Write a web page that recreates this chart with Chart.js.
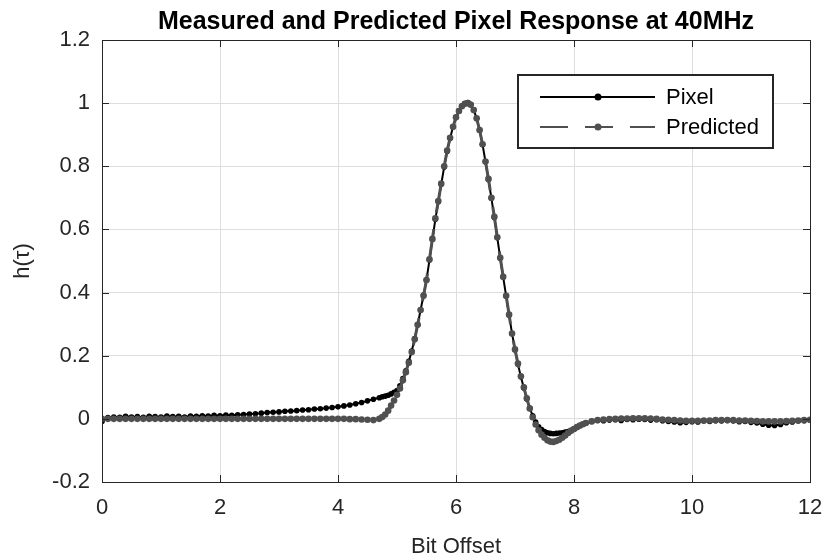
<!DOCTYPE html>
<html>
<head>
<meta charset="utf-8">
<script src="https://cdn.jsdelivr.net/npm/chart.js@4"></script>
<style>
  html, body { margin: 0; padding: 0; background: #fff; }
  #wrap { width: 822px; height: 559px; }
</style>
</head>
<body>
<div id="wrap"><canvas id="pulseCanvas" width="822" height="559"></canvas></div>
<script>
// sample positions (bit offset); finer sampling around the pulse
const bitOffset = [
  0, 0.1, 0.2, 0.3, 0.4, 0.5, 0.6, 0.7, 0.8, 0.9,
  1, 1.1, 1.2, 1.3, 1.4, 1.5, 1.6, 1.7, 1.8, 1.9,
  2, 2.1, 2.2, 2.3, 2.4, 2.5, 2.6, 2.7, 2.8, 2.9,
  3, 3.1, 3.2, 3.3, 3.4, 3.5, 3.6, 3.7, 3.8, 3.9,
  4, 4.1, 4.2, 4.3, 4.4, 4.5, 4.6,
  4.7, 4.75, 4.8, 4.85, 4.9, 4.95,
  5, 5.05, 5.1, 5.15, 5.2, 5.25, 5.3, 5.35, 5.4, 5.45,
  5.5, 5.55, 5.6, 5.65, 5.7, 5.75, 5.8, 5.85, 5.9, 5.95,
  6, 6.05, 6.1, 6.15, 6.2, 6.25, 6.3, 6.35, 6.4, 6.45,
  6.5, 6.55, 6.6, 6.65, 6.7, 6.75, 6.8, 6.85, 6.9, 6.95,
  7, 7.05, 7.1, 7.15, 7.2, 7.25, 7.3, 7.35, 7.4, 7.45,
  7.5, 7.55, 7.6, 7.65, 7.7, 7.75, 7.8, 7.85, 7.9, 7.95,
  8, 8.05, 8.1, 8.15, 8.2,
  8.3, 8.4, 8.5, 8.6, 8.7, 8.8, 8.9,
  9, 9.1, 9.2, 9.3, 9.4, 9.5, 9.6, 9.7, 9.8, 9.9,
  10, 10.1, 10.2, 10.3, 10.4, 10.5, 10.6, 10.7, 10.8, 10.9,
  11, 11.1, 11.2, 11.3, 11.4, 11.5, 11.6, 11.7, 11.8, 11.9,
  12
];

// measured pixel response
const pixel = [
  -0.008, 0.004, 0.006, 0.005, 0.008, 0.006, 0.007, 0.005, 0.008, 0.007,
  0.006, 0.009, 0.007, 0.008, 0.006, 0.009, 0.008, 0.010, 0.009, 0.011,
  0.010, 0.012, 0.011, 0.013, 0.014, 0.015, 0.016, 0.018, 0.020, 0.021,
  0.022, 0.024, 0.025, 0.026, 0.028, 0.029, 0.031, 0.032, 0.034, 0.036,
  0.038, 0.041, 0.044, 0.048, 0.052, 0.057, 0.062,
  0.067, 0.070, 0.072, 0.075, 0.079, 0.084,
  0.090, 0.105, 0.128, 0.152, 0.182, 0.215, 0.254, 0.298, 0.345, 0.392,
  0.440, 0.503, 0.568, 0.632, 0.688, 0.744, 0.798, 0.848, 0.889, 0.925,
  0.955, 0.976, 0.991, 0.999, 1.002, 0.996, 0.979, 0.951, 0.914, 0.869,
  0.814, 0.758, 0.699, 0.638, 0.574, 0.509, 0.449, 0.389, 0.329, 0.270,
  0.219, 0.173, 0.133, 0.098, 0.063, 0.034, 0.010, -0.010, -0.025, -0.034,
  -0.040, -0.044, -0.046, -0.047, -0.046, -0.045, -0.044, -0.042, -0.040, -0.036,
  -0.032, -0.027, -0.022, -0.017, -0.013,
  -0.008, -0.005, -0.006, -0.004, -0.003, -0.005, -0.002,
  -0.003, -0.001, -0.002, -0.004, -0.003, -0.006, -0.008, -0.010, -0.012, -0.011,
  -0.009, -0.010, -0.007, -0.008, -0.006, -0.007, -0.005, -0.007, -0.009, -0.008,
  -0.011, -0.013, -0.017, -0.020, -0.021, -0.018, -0.012, -0.010, -0.007, -0.006,
  -0.004
];

// predicted response
const predicted = [
  0, 0, 0, 0, 0, 0, 0, 0, 0, 0,
  0, 0, 0, 0, 0, 0, 0, 0, 0, 0,
  0, 0, 0, 0, 0, 0, 0, 0, 0, 0,
  0, 0, 0, 0, 0, 0, 0, 0, 0, 0,
  0, 0, -0.001, -0.001, -0.002, -0.003, -0.004,
  0.000, 0.006, 0.014, 0.026, 0.042, 0.058,
  0.076, 0.096, 0.122, 0.148, 0.178, 0.212, 0.252, 0.298, 0.345, 0.390,
  0.440, 0.505, 0.570, 0.635, 0.690, 0.745, 0.800, 0.850, 0.890, 0.925,
  0.955, 0.975, 0.990, 0.998, 1.000, 0.995, 0.978, 0.952, 0.915, 0.870,
  0.815, 0.760, 0.700, 0.640, 0.575, 0.510, 0.450, 0.390, 0.330, 0.270,
  0.220, 0.175, 0.135, 0.100, 0.065, 0.033, 0.005, -0.018, -0.036, -0.050,
  -0.060, -0.068, -0.072, -0.073, -0.070, -0.066, -0.060, -0.053, -0.045, -0.038,
  -0.032, -0.026, -0.021, -0.017, -0.013,
  -0.008, -0.004, -0.002, -0.001, 0, 0.001, 0.001,
  0.002, 0.002, 0.002, 0.001, 0, -0.002, -0.003, -0.004, -0.005, -0.006,
  -0.006, -0.006, -0.005, -0.005, -0.004, -0.004, -0.004, -0.004, -0.005, -0.005,
  -0.006, -0.007, -0.008, -0.008, -0.008, -0.008, -0.007, -0.006, -0.005, -0.004,
  -0.003
];

const xTicks = [0, 2, 4, 6, 8, 10, 12];
const yTicks = [-0.2, 0, 0.2, 0.4, 0.6, 0.8, 1, 1.2];

const FONT = "'Liberation Sans', Arial, Helvetica, sans-serif";
const AXIS_COLOR = '#262626';

function toPoints(xs, ys) {
  return xs.map((x, i) => ({ x: x, y: ys[i] }));
}

// MATLAB-like box with inward ticks, and the legend
const boxPlugin = {
  id: 'boxPlugin',
  afterDatasetsDraw(chart) {
    const ctx = chart.ctx;
    const a = chart.chartArea;
    const xs = chart.scales.x, ys = chart.scales.y;
    ctx.save();
    ctx.strokeStyle = AXIS_COLOR;
    ctx.lineWidth = 1;
    ctx.beginPath();
    xTicks.forEach(v => {
      const px = Math.round(xs.getPixelForValue(v)) + 0.5;
      ctx.moveTo(px, a.bottom); ctx.lineTo(px, a.bottom - 7);
      ctx.moveTo(px, a.top); ctx.lineTo(px, a.top + 7);
    });
    yTicks.forEach(v => {
      const py = Math.round(ys.getPixelForValue(v)) + 0.5;
      ctx.moveTo(a.left, py); ctx.lineTo(a.left + 7, py);
      ctx.moveTo(a.right, py); ctx.lineTo(a.right - 7, py);
    });
    ctx.stroke();
    ctx.strokeRect(Math.round(a.left) + 0.5, Math.round(a.top) + 0.5,
                   Math.round(a.right - a.left), Math.round(a.bottom - a.top));
    ctx.restore();
  },
  afterDraw(chart) {
    const ctx = chart.ctx;
    const bx = 518, by = 75, bw = 255, bh = 73;
    ctx.save();
    ctx.fillStyle = '#fff';
    ctx.fillRect(bx, by, bw, bh);
    ctx.strokeStyle = AXIS_COLOR;
    ctx.lineWidth = 2;
    ctx.strokeRect(bx, by, bw, bh);
    ctx.font = '22px ' + FONT;
    ctx.textBaseline = 'middle';
    const rows = [chart.data.datasets[1], chart.data.datasets[0]];
    rows.forEach((ds, i) => {
      const y = by + 22 + i * 30;
      ctx.strokeStyle = ds.borderColor;
      ctx.lineWidth = 2;
      ctx.setLineDash(ds.borderDash || []);
      ctx.beginPath();
      ctx.moveTo(bx + 22, y); ctx.lineTo(bx + 137, y);
      ctx.stroke();
      ctx.setLineDash([]);
      ctx.fillStyle = ds.pointBackgroundColor;
      ctx.beginPath();
      ctx.arc(bx + 80, y, 3.5, 0, Math.PI * 2);
      ctx.fill();
      ctx.fillStyle = '#000';
      ctx.fillText(ds.label, bx + 148, y + 1);
    });
    ctx.restore();
  }
};

new Chart(document.getElementById('pulseCanvas'), {
  type: 'line',
  data: {
    datasets: [
      {
        label: 'Predicted',
        data: toPoints(bitOffset, predicted),
        borderColor: '#505050',
        pointBackgroundColor: '#505050',
        borderWidth: 3,
        borderDash: [28, 17],
        pointRadius: 3.3,
        pointBorderWidth: 0,
        order: 0
      },
      {
        label: 'Pixel',
        data: toPoints(bitOffset, pixel),
        borderColor: '#000000',
        pointBackgroundColor: '#000000',
        borderWidth: 2,
        pointRadius: 2.8,
        pointBorderWidth: 0,
        order: 1
      }
    ]
  },
  options: {
    responsive: false,
    animation: false,
    events: [],
    layout: { padding: { left: 0, right: 12, top: 0, bottom: 0 } },
    elements: { line: { tension: 0 } },
    plugins: {
      legend: { display: false },
      tooltip: { enabled: false },
      title: {
        display: true,
        fullSize: false,
        text: 'Measured and Predicted Pixel Response at 40MHz',
        color: '#000',
        font: { family: FONT, size: 25, weight: 'bold', lineHeight: 1.2 },
        padding: { top: 7, bottom: 3 }
      }
    },
    scales: {
      x: {
        type: 'linear',
        min: 0,
        max: 12,
        afterBuildTicks: s => { s.ticks = xTicks.map(v => ({ value: v })); },
        afterFit: s => { s.height = 77; s.paddingLeft = 0; s.paddingRight = 0; },
        ticks: { color: AXIS_COLOR, padding: 13, maxRotation: 0, font: { family: FONT, size: 22 } },
        grid: { color: '#dedede', drawTicks: false },
        border: { display: false },
        title: {
          display: true, text: 'Bit Offset', color: AXIS_COLOR,
          font: { family: FONT, size: 22, lineHeight: 1.1 },
          padding: { top: 0, bottom: 0 }
        }
      },
      y: {
        type: 'linear',
        min: -0.2,
        max: 1.2,
        afterBuildTicks: s => { s.ticks = yTicks.map(v => ({ value: v })); },
        afterFit: s => { s.width = 102; },
        ticks: {
          color: AXIS_COLOR, padding: 12, font: { family: FONT, size: 22 },
          callback: v => String(Math.round(v * 10) / 10)
        },
        grid: { color: '#dedede', drawTicks: false },
        border: { display: false },
        title: {
          display: true, text: 'h(τ)', color: AXIS_COLOR,
          font: { family: FONT, size: 22, lineHeight: 1.2 },
          padding: { top: 10, bottom: 0 }
        }
      }
    }
  },
  plugins: [boxPlugin]
});
</script>
</body>
</html>
